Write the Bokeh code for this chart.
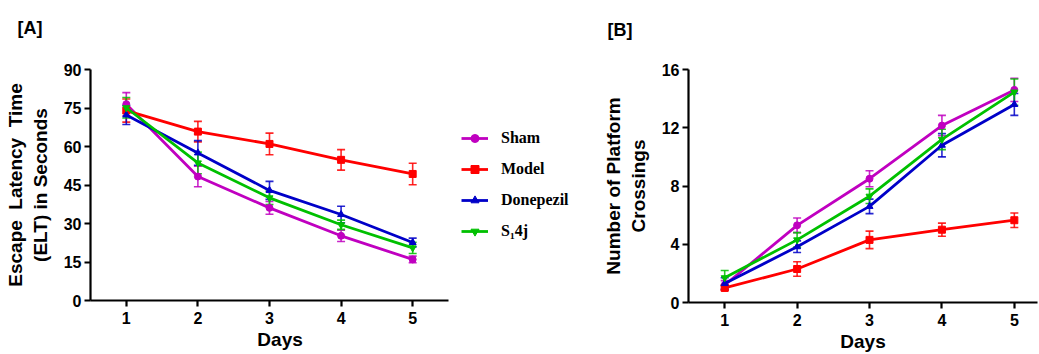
from bokeh.plotting import figure
from bokeh.layouts import row
from bokeh.models import (ColumnDataSource, Whisker, TeeHead, Legend, LegendItem,
                          FixedTicker, Range1d)
from bokeh.embed import file_html
from bokeh.resources import INLINE

# ---- data -------------------------------------------------------------
days = [1, 2, 3, 4, 5]
groups = ["Sham", "Model", "Donepezil", "S\u20814j"]
colors = ["#C000C0", "#FF0000", "#0000C8", "#00C000"]
markers = ["circle", "square", "triangle", "inverted_triangle"]

# escape latency time (s), mean and SEM
sham_elt = [76.5, 48.3, 36.1, 25.2, 16.0]
sham_elt_err = [4.5, 4.0, 2.5, 2.2, 1.3]
model_elt = [74.0, 65.8, 61.0, 54.8, 49.3]
model_elt_err = [4.5, 4.0, 4.2, 4.0, 4.2]
done_elt = [72.3, 57.5, 42.9, 33.5, 22.6]
done_elt_err = [3.7, 4.8, 3.5, 3.2, 1.7]
s14j_elt = [75.1, 53.6, 40.0, 29.5, 20.5]
s14j_elt_err = [4.0, 4.2, 2.6, 1.8, 2.2]

# number of platform crossings, mean and SEM
sham_pc = [1.2, 5.3, 8.5, 12.15, 14.6]
sham_pc_err = [0.3, 0.5, 0.55, 0.7, 0.8]
model_pc = [1.0, 2.3, 4.3, 5.0, 5.65]
model_pc_err = [0.15, 0.5, 0.6, 0.45, 0.5]
done_pc = [1.3, 3.83, 6.6, 10.8, 13.6]
done_pc_err = [0.4, 0.4, 0.5, 0.8, 0.75]
s14j_pc = [1.7, 4.3, 7.3, 11.2, 14.45]
s14j_pc_err = [0.5, 0.5, 0.5, 0.7, 0.9]

elt_ticks = [0, 15, 30, 45, 60, 75, 90]
pc_ticks = [0, 4, 8, 12, 16]

AX_FONT = "Liberation Sans"
NBSP = "\u00a0"


def style_axes(p, y_ticks):
    for ax in (p.xaxis[0], p.yaxis[0]):
        ax.axis_line_width = 2.2
        ax.axis_line_color = "black"
        ax.major_tick_line_width = 2.2
        ax.major_tick_line_color = "black"
        ax.major_tick_out = 6
        ax.major_tick_in = 0
        ax.minor_tick_line_color = None
        ax.major_label_text_font = AX_FONT
        ax.major_label_text_font_style = "bold"
        ax.major_label_text_font_size = "16px"
        ax.major_label_text_color = "black"
        ax.axis_label_text_font = AX_FONT
        ax.axis_label_text_font_style = "bold"
        ax.axis_label_text_font_size = "19px"
        ax.axis_label_text_color = "black"
    p.xaxis.ticker = FixedTicker(ticks=days)
    p.yaxis.ticker = FixedTicker(ticks=y_ticks)
    p.xaxis.major_label_standoff = 5
    p.xaxis.axis_label_standoff = 2
    p.yaxis.major_label_standoff = 3
    p.yaxis.axis_label_standoff = 10
    p.xgrid.visible = False
    p.ygrid.visible = False
    p.outline_line_color = None
    # panel letter sits high in the top border: a second (blank) title line
    # makes the title box tall, and the text is pinned to its top
    p.title.text_font = AX_FONT
    p.title.text_font_style = "bold"
    p.title.text_font_size = "18px"
    p.title.text_color = "black"
    p.title.text_line_height = 1.5
    p.title.align = "left"
    p.title.vertical_align = "top"
    p.title.standoff = 0


def draw_series(p, means, errs):
    items = []
    for name, col, mk, m, e in zip(groups, colors, markers, means, errs):
        src = ColumnDataSource(dict(
            x=days, y=m,
            upper=[a + b for a, b in zip(m, e)],
            lower=[a - b for a, b in zip(m, e)]))
        w = Whisker(source=src, base="x", upper="upper", lower="lower",
                    line_color=col, line_width=1.6, line_alpha=0.85,
                    upper_head=TeeHead(size=8, line_color=col, line_width=1.6, line_alpha=0.85),
                    lower_head=TeeHead(size=8, line_color=col, line_width=1.6, line_alpha=0.85))
        p.add_layout(w)
        ln = p.line("x", "y", source=src, line_color=col, line_width=2.8)
        sc = p.scatter("x", "y", source=src, marker=mk, size=7,
                       fill_color=col, line_color=col)
        items.append(LegendItem(label=name, renderers=[ln, sc]))
    return items


# ---- panel A: escape latency -----------------------------------------
# the frame runs on past day 5 to hold the legend; the x axis line is
# bounded to the plotted days
pA = figure(width=580, height=354, frame_width=490, frame_height=231,
            output_backend="svg", toolbar_location=None,
            x_range=Range1d(0.5, 7.344), y_range=Range1d(0, 90),
            min_border_left=90, min_border_right=0,
            min_border_top=69, min_border_bottom=54, title="[A]\n")
style_axes(pA, elt_ticks)
pA.xaxis.bounds = (0.5, 5.5)
# trailing no-break spaces pull the centred label back under the bounded axis
pA.xaxis.axis_label = "Days" + NBSP * 21
pA.yaxis.axis_label = ("Escape" + NBSP + " Latency" + NBSP + " Time\n"
                       "(ELT) in Seconds")
pA.title.offset = -73
itemsA = draw_series(pA, [sham_elt, model_elt, done_elt, s14j_elt],
                     [sham_elt_err, model_elt_err, done_elt_err, s14j_elt_err])

legend = Legend(items=itemsA, location=(371, 59), orientation="vertical")
legend.border_line_color = None
legend.background_fill_alpha = 0
legend.padding = 0
legend.margin = 0
legend.spacing = 11
legend.glyph_width = 27
legend.glyph_height = 20
legend.label_height = 20
legend.label_standoff = 13
legend.label_text_font = "Liberation Serif"
legend.label_text_font_style = "bold"
legend.label_text_font_size = "16px"
legend.label_text_color = "black"
pA.add_layout(legend)

# ---- panel B: platform crossings -------------------------------------
pB = figure(width=459, height=354, frame_width=349, frame_height=233,
            output_backend="svg", toolbar_location=None,
            x_range=Range1d(0.5, 5.32), y_range=Range1d(0, 16),
            min_border_left=108, min_border_right=2,
            min_border_top=66, min_border_bottom=55, title="[B]\n")
style_axes(pB, pc_ticks)
pB.title.text_line_height = 1.4
pB.xaxis.axis_label = "Days"
pB.yaxis.axis_label = "Number of Platform\nCrossings"
pB.title.offset = -81
draw_series(pB, [sham_pc, model_pc, done_pc, s14j_pc],
            [sham_pc_err, model_pc_err, done_pc_err, s14j_pc_err])

layout = row(pA, pB, spacing=0)
open("out.html", "w").write(file_html(layout, INLINE))
